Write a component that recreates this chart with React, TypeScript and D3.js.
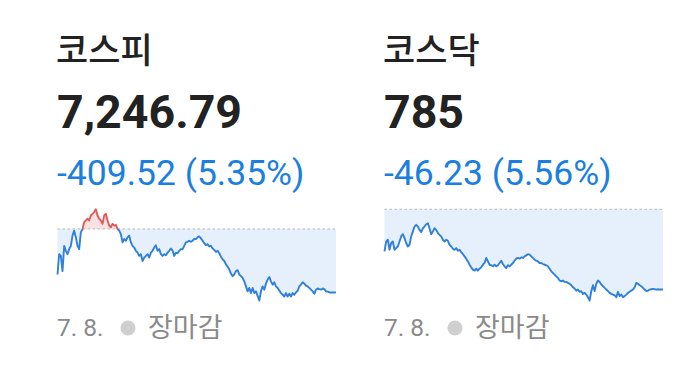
import React from "react";
import * as d3 from "d3";

const kospiValues = [
  7362, 7493, 7482, 7384, 7547, 7515, 7493, 7526, 7547, 7613, 7645, 7602, 7547, 7526, 7634, 7656,
  7700, 7711, 7722, 7711, 7743, 7754, 7765, 7783, 7743, 7722, 7711, 7689, 7743, 7754, 7711, 7678,
  7667, 7689, 7678, 7682, 7656, 7645, 7623, 7569, 7591, 7580, 7602, 7613, 7569, 7547, 7536, 7515,
  7503, 7482, 7493, 7449, 7471, 7482, 7493, 7471, 7503, 7515, 7536, 7551, 7515, 7526, 7493, 7482,
  7493, 7486, 7503, 7515, 7530, 7515, 7482, 7503, 7499, 7515, 7526, 7526, 7547, 7569, 7573, 7580,
  7573, 7580, 7591, 7591, 7602, 7608, 7595, 7580, 7564, 7551, 7558, 7543, 7547, 7530, 7521, 7508,
  7515, 7499, 7477, 7460, 7449, 7427, 7412, 7394, 7368, 7351, 7362, 7384, 7390, 7362, 7351, 7340,
  7318, 7285, 7253, 7275, 7242, 7275, 7242, 7253, 7224, 7194, 7253, 7285, 7264, 7303, 7329, 7346,
  7318, 7296, 7312, 7285, 7275, 7259, 7242, 7231, 7220, 7242, 7220, 7237, 7220, 7242, 7231, 7246,
  7257, 7285, 7296, 7312, 7303, 7290, 7285, 7275, 7264, 7253, 7237, 7264, 7272, 7268, 7264, 7272,
  7268, 7253, 7251, 7246, 7246, 7246, 7246, 7246.79,
];

const kosdaqValues = [
  807.0, 812.7, 813.7, 807.9, 811.8, 812.7, 807.9, 808.9, 809.8, 812.7, 815.6, 816.9, 814.6, 811.8,
  809.8, 810.8, 815.6, 818.4, 821.3, 822.3, 821.3, 819.4, 818.1, 820.3, 821.3, 822.6, 823.2, 820.3,
  816.9, 818.4, 820.3, 819.4, 817.5, 816.5, 815.6, 813.7, 812.7, 813.7, 813.1, 810.8, 809.8, 808.5,
  807.9, 808.9, 807.4, 807.9, 806.6, 805.4, 804.1, 802.8, 801.2, 799.3, 797.8, 796.5, 795.9, 797.0,
  795.9, 797.0, 797.8, 799.3, 800.3, 803.2, 801.2, 799.3, 799.0, 798.4, 799.3, 798.4, 799.0, 800.3,
  801.6, 799.7, 798.4, 797.4, 799.0, 798.4, 799.3, 800.3, 801.6, 802.8, 803.2, 802.8, 803.5, 803.2,
  804.1, 804.7, 805.4, 805.1, 804.1, 803.2, 802.2, 801.6, 801.2, 800.3, 800.3, 799.7, 799.3, 799.0,
  798.4, 797.0, 795.5, 794.6, 793.6, 792.6, 791.7, 790.2, 789.8, 790.2, 789.4, 789.4, 788.8, 788.3,
  787.5, 786.3, 785.6, 784.4, 785.0, 783.7, 784.1, 782.5, 783.1, 782.1, 780.6, 778.7, 784.1, 787.5,
  784.1, 788.3, 790.2, 789.4, 787.9, 786.9, 786.0, 785.0, 784.1, 783.1, 782.5, 782.1, 781.6, 780.6,
  783.7, 781.2, 782.1, 780.6, 781.2, 782.1, 783.1, 783.7, 784.4, 785.0, 786.3, 788.8, 788.3, 787.5,
  786.9, 786.0, 785.0, 784.1, 784.4, 785.0, 785.2, 785.4, 785.2, 785.0, 785.2, 785.0, 785.0, 785.0,
];

const names = ["코스피", "코스닥"];
const prices = ["7,246.79", "785"];
const changes = ["-409.52 (5.35%)", "-46.23 (5.56%)"];
const prevCloses = [7656.31, 831.23];
const dateLabel = "7. 8.";
const statusLabel = "장마감";

const W = 673;
const H = 391;
const BLUE = "#2f80d9";
const BLUE_FILL = "#e6f0fc";
const RED = "#e05a5a";
const RED_FILL = "#fbe1e1";

function Panel({ idx, x0, values }: { idx: number; x0: number; values: number[] }) {
  const base = prevCloses[idx];
  const chartW = 279;
  const xs = d3.scaleLinear().domain([0, values.length - 1]).range([x0 + 0.5, x0 + chartW]);
  const ext = d3.extent([...values, base]) as [number, number];
  const ys = d3.scaleLinear().domain(ext).range([300.5, 209.3]);
  const by = ys(base);
  const area = d3
    .area<number>()
    .x((_, i) => xs(i))
    .y0(by)
    .y1((d) => ys(d))(values) as string;
  const line = d3
    .line<number>()
    .x((_, i) => xs(i))
    .y((d) => ys(d))(values) as string;
  const font = "Roboto, 'Noto Sans CJK KR', sans-serif";
  const cjk = "'Noto Sans CJK KR', Roboto, sans-serif";
  return (
    <g>
      <defs>
        <clipPath id={`above${idx}`}>
          <rect x={x0 - 5} y={0} width={chartW + 10} height={by} />
        </clipPath>
        <clipPath id={`below${idx}`}>
          <rect x={x0 - 5} y={by} width={chartW + 10} height={H - by} />
        </clipPath>
      </defs>
      <text x={x0 - 1} y={63} fontFamily={cjk} fontSize={35} fontWeight={500} fill="#222">
        {names[idx]}
      </text>
      <text x={x0} y={128} fontFamily={font} fontSize={46.5} fontWeight={700} fill="#222">
        {prices[idx]}
      </text>
      <text x={x0} y={185} fontFamily={font} fontSize={35.5} fill="#1a7fe0">
        {changes[idx]}
      </text>
      <path d={area} fill={RED_FILL} clipPath={`url(#above${idx})`} />
      <path d={area} fill={BLUE_FILL} clipPath={`url(#below${idx})`} />
      <line
        x1={x0 + 0.5}
        x2={x0 + chartW}
        y1={by}
        y2={by}
        stroke="#b8b8b8"
        strokeWidth={1}
        strokeDasharray="2.5 2.5"
      />
      <path d={line} fill="none" stroke={RED} strokeWidth={1.9} strokeLinejoin="round" clipPath={`url(#above${idx})`} />
      <path d={line} fill="none" stroke={BLUE} strokeWidth={1.9} strokeLinejoin="round" clipPath={`url(#below${idx})`} />
      <text x={x0} y={336} fontFamily={font} fontSize={24.5} fill="#8a8a8a">
        {dateLabel}
      </text>
      <circle cx={x0 + 71} cy={328} r={7.5} fill="#cfcfcf" />
      <text x={x0 + 91} y={337} fontFamily={cjk} fontSize={27} fill="#8a8a8a">
        {statusLabel}
      </text>
    </g>
  );
}

export default function App() {
  return (
    <svg width={W} height={H} style={{ position: "absolute", left: 0, top: 0, background: "#fff" }}>
      <rect width={W} height={H} fill="#fff" />
      <Panel idx={0} x0={57} values={kospiValues} />
      <Panel idx={1} x0={384} values={kosdaqValues} />
    </svg>
  );
}
